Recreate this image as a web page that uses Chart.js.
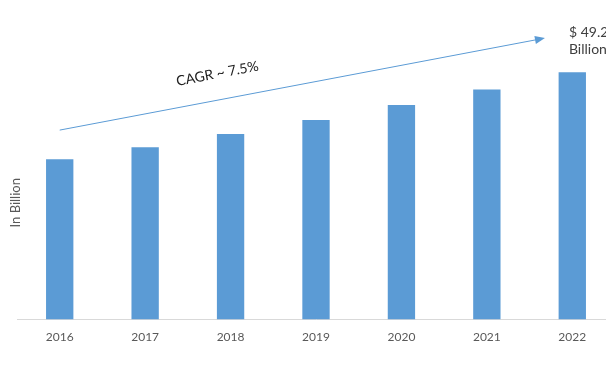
<!DOCTYPE html>
<html>
<head>
<meta charset="utf-8">
<script src="https://cdn.jsdelivr.net/npm/chart.js@4/dist/chart.umd.min.js"></script>
<style>
  html, body { margin: 0; padding: 0; background: #fff; overflow: hidden; }
  #wrap { width: 620px; height: 365px; }
</style>
</head>
<body>
<div id="wrap"><canvas id="chart"></canvas></div>
<script>
const years = ["2016", "2017", "2018", "2019", "2020", "2021", "2022"];
const marketValues = [31.9, 34.3, 36.9, 39.7, 42.7, 45.8, 49.2];
const yTitle = "In Billion";
const cagrText = "CAGR ~ 7.5%";
const endLabel = ["$ 49.2", "Billion"];
// arrow runs from above the first bar to just short of the last one (index, value)
const arrowStart = [0, 37.7];
const arrowEnd = [5.68, 56];

const fontFamily = "Lato, 'Open Sans', sans-serif";

const annotations = {
    id: "annotations",
    afterDatasetsDraw(chart) {
        const ctx = chart.ctx;
        const x = chart.scales.x, y = chart.scales.y;
        const x1 = x.getPixelForValue(arrowStart[0]), y1 = y.getPixelForValue(arrowStart[1]);
        const x2 = x.getPixelForValue(arrowEnd[0]), y2 = y.getPixelForValue(arrowEnd[1]);
        const ang = Math.atan2(y2 - y1, x2 - x1);

        ctx.save();
        // arrow line
        ctx.strokeStyle = "#5B9BD5";
        ctx.lineWidth = 1;
        ctx.beginPath();
        ctx.moveTo(x1, y1);
        ctx.lineTo(x2 - 8 * Math.cos(ang), y2 - 8 * Math.sin(ang));
        ctx.stroke();
        // arrow head
        ctx.fillStyle = "#5B9BD5";
        ctx.beginPath();
        ctx.moveTo(x2, y2);
        ctx.lineTo(x2 - 10 * Math.cos(ang) + 4 * Math.sin(ang), y2 - 10 * Math.sin(ang) - 4 * Math.cos(ang));
        ctx.lineTo(x2 - 10 * Math.cos(ang) - 4 * Math.sin(ang), y2 - 10 * Math.sin(ang) + 4 * Math.cos(ang));
        ctx.closePath();
        ctx.fill();

        // CAGR label along the arrow
        const t = 0.335;
        const cx = x1 + (x2 - x1) * t, cy = y1 + (y2 - y1) * t;
        ctx.translate(cx, cy);
        ctx.rotate(ang);
        ctx.fillStyle = "#222";
        ctx.font = "14px " + fontFamily;
        ctx.textAlign = "center";
        ctx.textBaseline = "bottom";
        ctx.fillText(cagrText, 0, -19);
        ctx.restore();

        // end value label (runs off the right edge like the original)
        ctx.save();
        ctx.fillStyle = "#404040";
        ctx.font = "14px " + fontFamily;
        ctx.textAlign = "left";
        ctx.textBaseline = "middle";
        ctx.fillText(endLabel[0], x2 + 24, y2 - 6);
        ctx.fillText(endLabel[1], x2 + 24, y2 + 11);
        ctx.restore();

        // y axis title
        ctx.save();
        ctx.translate(16, (chart.chartArea.top + chart.chartArea.bottom) / 2 + 34);
        ctx.rotate(-Math.PI / 2);
        ctx.fillStyle = "#595959";
        ctx.font = "13px " + fontFamily;
        ctx.textAlign = "center";
        ctx.textBaseline = "middle";
        ctx.fillText(yTitle, 0, 0);
        ctx.restore();
    }
};

new Chart(document.getElementById("chart"), {
    type: "bar",
    data: {
        labels: years,
        datasets: [{
            data: marketValues,
            backgroundColor: "#5B9BD5",
            borderWidth: 0,
            barPercentage: 0.32,
            categoryPercentage: 1
        }]
    },
    options: {
        responsive: true,
        maintainAspectRatio: false,
        animation: false,
        layout: { padding: { left: 17, right: 5, top: 18, bottom: 11 } },
        plugins: {
            legend: { display: false },
            tooltip: { enabled: false }
        },
        scales: {
            x: {
                grid: { display: false, drawTicks: false },
                border: { display: true, color: "#d9d9d9", width: 1 },
                ticks: { color: "#595959", padding: 10, font: { family: fontFamily, size: 12 } }
            },
            y: {
                display: false,
                min: 0,
                max: 60
            }
        }
    },
    plugins: [annotations]
});
</script>
</body>
</html>
